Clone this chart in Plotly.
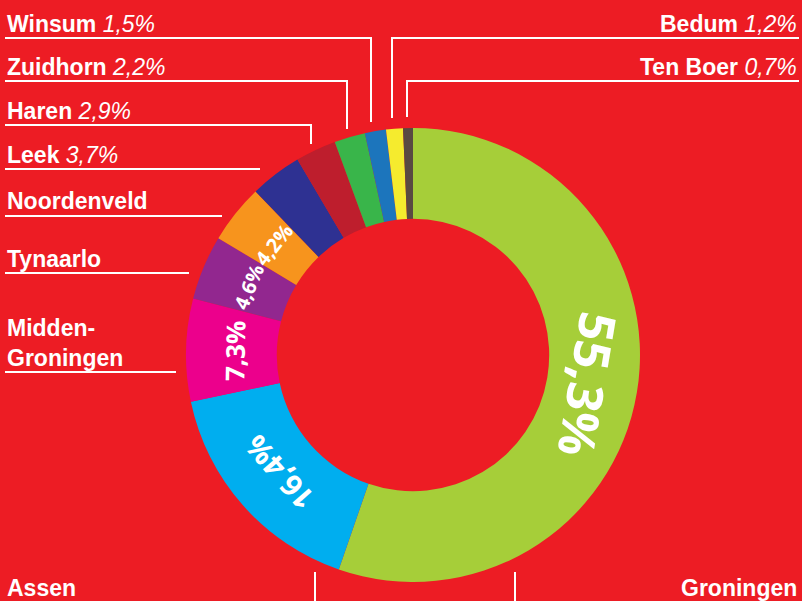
import math
import plotly.graph_objects as go

# ---- data ----
names = ["Groningen", "Assen", "Midden-Groningen", "Tynaarlo", "Noordenveld",
         "Leek", "Haren", "Zuidhorn", "Winsum", "Bedum", "Ten Boer"]
values = [55.3, 16.4, 7.3, 4.6, 4.2, 3.7, 2.9, 2.2, 1.5, 1.2, 0.7]
colors = ["#A6CE39", "#00AEEF", "#EC008C", "#92278F", "#F7941D",
          "#2E3192", "#BE1E2D", "#39B54A", "#1C75BC", "#F5EB2E", "#594A42"]
inside_labels = ["Groningen", "Assen", "Midden-Groningen", "Tynaarlo", "Noordenveld"]
label_with_pct = ["Leek", "Haren", "Zuidhorn", "Winsum", "Bedum", "Ten Boer"]

W, H = 802, 601
BG = "#ED1C24"
CX, CY, R_OUT, HOLE = 413, 355, 227, 0.6


def px(x):
    return x / W


def py(y):
    return 1 - y / H


def fmt(v):
    return f"{v:.1f}".replace(".", ",") + "%"


fig = go.Figure(go.Pie(
    labels=names, values=values, sort=False, direction="clockwise", rotation=0,
    hole=HOLE, marker=dict(colors=colors, line=dict(width=0)),
    textinfo="none", hoverinfo="skip", showlegend=False,
    domain=dict(x=[px(CX - R_OUT), px(CX + R_OUT)],
                y=[py(CY + R_OUT), py(CY - R_OUT)]),
))

annotations = []

# ---- in-slice percentage labels (tangential) ----
inside_sizes = {"Groningen": 50, "Assen": 30, "Midden-Groningen": 26,
                "Tynaarlo": 20, "Noordenveld": 20}
total = sum(values)
cum = 0.0
r_txt = 178
for n, v in zip(names, values):
    mid = (cum + v / 2) / total * 360.0
    cum += v
    if n not in inside_labels:
        continue
    a = math.radians(mid)
    x = CX + r_txt * math.sin(a)
    y = CY - r_txt * math.cos(a)
    ang = ((mid + 180) % 360) - 180
    annotations.append(dict(
        x=px(x), y=py(y), xref="paper", yref="paper", showarrow=False,
        text=f"<b>{fmt(v)}</b>", textangle=ang, xanchor="center", yanchor="middle",
        font=dict(family="Open Sans", size=inside_sizes[n], color="white")))

# ---- outside labels (layout positions) ----
label_pos = {
    "Winsum": (5, 24, "left"),
    "Zuidhorn": (5, 67, "left"),
    "Haren": (5, 111, "left"),
    "Leek": (5, 155, "left"),
    "Noordenveld": (5, 201, "left"),
    "Tynaarlo": (5, 259, "left"),
    "Midden-Groningen": (5, 343, "left"),
    "Bedum": (799, 24, "right"),
    "Ten Boer": (799, 67, "right"),
    "Assen": (5, 588, "left"),
    "Groningen": (799, 588, "right"),
}
lab_font = dict(family="Liberation Sans", size=23, color="white")
for n, v in zip(names, values):
    x0, y0, anc = label_pos[n]
    txt = "<b>" + n.replace("Midden-", "Midden-<br>") + "</b>"
    if n in label_with_pct:
        txt += f" <i>{fmt(v)}</i>"
    annotations.append(dict(x=px(x0), y=py(y0), xref="paper", yref="paper",
                            showarrow=False, text=txt, xanchor=anc, yanchor="middle",
                            align=anc, font=lab_font))

# ---- leader lines (layout, pixel coords) ----
leaders = [
    [(5, 38), (371, 38), (371, 122)],
    [(5, 81), (347, 81), (347, 129)],
    [(5, 125), (311, 125), (311, 144)],
    [(5, 169), (260, 169)],
    [(5, 216), (222, 216)],
    [(5, 273), (189, 273)],
    [(5, 372), (176, 372)],
    [(392, 118), (392, 38), (799, 38)],
    [(407, 117), (407, 81), (799, 81)],
    [(315, 572), (315, 615)],
    [(515, 572), (515, 615)],
]
shapes = []
for pts in leaders:
    path = "M " + " L ".join(f"{px(x):.5f},{py(y):.5f}" for x, y in pts)
    shapes.append(dict(type="path", xref="paper", yref="paper", path=path,
                       line=dict(color="white", width=2), layer="above"))

fig.update_layout(
    width=W, height=H, margin=dict(l=0, r=0, t=0, b=0),
    paper_bgcolor=BG, plot_bgcolor=BG,
    annotations=annotations, shapes=shapes,
)

fig.write_html(
    "out.html",
    config={"displayModeBar": False, "staticPlot": True},
    post_script="document.body.style.margin='0';document.body.style.padding='0';"
                "document.body.style.overflow='hidden';",
)
